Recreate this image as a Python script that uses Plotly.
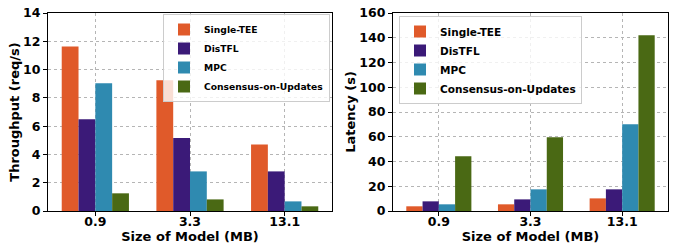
import plotly.graph_objects as go

categories = ["0.9", "3.3", "13.1"]
series_names = ["Single-TEE", "DisTFL", "MPC", "Consensus-on-Updates"]
colors = ["#e05a2a", "#3b1a78", "#2f8ab0", "#4a6914"]

throughput = {
    "Single-TEE": [11.64, 9.24, 4.71],
    "DisTFL": [6.48, 5.16, 2.80],
    "MPC": [9.03, 2.80, 0.68],
    "Consensus-on-Updates": [1.25, 0.82, 0.33],
}
latency = {
    "Single-TEE": [3.8, 5.4, 10.2],
    "DisTFL": [7.8, 9.4, 17.5],
    "MPC": [5.4, 17.5, 70.0],
    "Consensus-on-Updates": [44.2, 59.5, 142.0],
}

FONT = "DejaVu Sans"
fig = go.Figure()
for name, col in zip(series_names, colors):
    fig.add_trace(go.Bar(x=categories, y=throughput[name], name=name, marker_color=col,
                         marker_line_width=0, xaxis="x", yaxis="y", legend="legend"))
for name, col in zip(series_names, colors):
    fig.add_trace(go.Bar(x=categories, y=latency[name], name=name, marker_color=col,
                         marker_line_width=0, xaxis="x2", yaxis="y2", legend="legend2"))

W, H = 675, 246
def px_x(p):
    return p / W
def px_y(p):
    return 1 - p / H

tickfont = dict(family=FONT, size=12.5, color="black", weight="bold")
titlefont = dict(family=FONT, size=13, color="black", weight="bold")
axis_common = dict(showline=True, mirror=True, linecolor="black", linewidth=1.2,
                   ticks="outside", ticklen=4, tickwidth=1, tickcolor="black",
                   showgrid=True, gridcolor="#b5b5b5", griddash="dot", gridwidth=1,
                   tickfont=tickfont, zeroline=False, automargin=False)
xaxis_extra = dict(ticklabelstandoff=-5)

fig.update_layout(
    width=W, height=H,
    margin=dict(l=0, r=0, t=0, b=0, autoexpand=False),
    paper_bgcolor="white", plot_bgcolor="white",
    barmode="group", bargap=0.29, bargroupgap=0,
    font=dict(family=FONT, color="black"),
    xaxis=dict(domain=[px_x(48), px_x(332)], anchor="y", range=[-0.5, 2.5],
               title=dict(text="Size of Model (MB)", font=titlefont, standoff=0),
               **axis_common, **xaxis_extra),
    yaxis=dict(domain=[px_y(211), px_y(13)], anchor="x", range=[0, 14], dtick=2,
               title=dict(text="Throughput (req/s)", font=titlefont, standoff=0), **axis_common),
    xaxis2=dict(domain=[px_x(393), px_x(668)], anchor="y2", range=[-0.5, 2.5],
                title=dict(text="Size of Model (MB)", font=titlefont, standoff=0),
                **axis_common, **xaxis_extra),
    yaxis2=dict(domain=[px_y(211), px_y(13)], anchor="x2", range=[0, 160], dtick=20,
                title=dict(text="Latency (s)", font=titlefont, standoff=0), **axis_common),
    legend=dict(x=px_x(330), y=px_y(14), xanchor="right", yanchor="top",
                bgcolor="rgba(255,255,255,0.8)", bordercolor="#cccccc", borderwidth=1,
                font=dict(family=FONT, size=9.2, color="black", weight="bold"),
                tracegroupgap=0),
    legend2=dict(x=px_x(399), y=px_y(16), xanchor="left", yanchor="top",
                 bgcolor="rgba(255,255,255,0.8)", bordercolor="#cccccc", borderwidth=1,
                 font=dict(family=FONT, size=10.5, color="black", weight="bold"),
                 tracegroupgap=0),
)

fig.write_html("out.html", post_script="document.body.style.margin='0';",
               config={"displayModeBar": False})
